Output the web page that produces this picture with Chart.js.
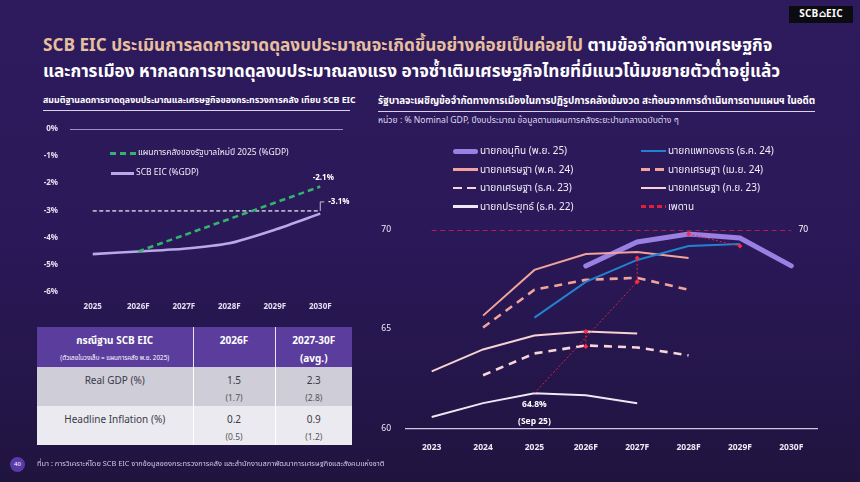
<!DOCTYPE html>
<html>
<head>
<meta charset="utf-8">
<script src="https://cdn.jsdelivr.net/npm/chart.js@4.4.1/dist/chart.umd.min.js"></script>
<style>
  body {
    margin: 0;
    width: 860px;
    height: 482px;
    overflow: hidden;
    position: relative;
    background: linear-gradient(180deg, #2e1b5e 0%, #2a1858 50%, #20143f 100%);
    font-family: "Noto Sans Thai", "Noto Sans", "DejaVu Sans", sans-serif;
    color: #fff;
  }
  .abs { position: absolute; white-space: nowrap; }
  #logo {
    left: 789px; top: 6px; width: 64px; height: 17px;
    background: #0c0b10; font-size: 10px; font-weight: bold;
    line-height: 17px; text-align: center; letter-spacing: 0.3px;
  }
  #title { left: 43px; top: 33px; font-size: 17.2px; font-weight: bold; line-height: 26px; }
  #title .gold { color: #e6c09e; }
  .sec { font-weight: bold; }
  .rule { height: 1px; background: #d9d3ea; }
  .sub { font-size: 8.6px; color: #ddd8ec; }
  .lg { font-size: 10px; color: #f0eef8; }
  .sw { position: absolute; height: 0; }
  #tbl {
    position: absolute; left: 37px; top: 327px; width: 315px;
    border-collapse: collapse; table-layout: fixed;
    font-size: 10px; text-align: center;
  }
  #tbl th { background: #5b3d9e; color: #fff; vertical-align: top; padding: 6px 2px 0 2px; height: 34px; border-left: 1px solid #e8e4f4; }
  #tbl th:first-child { border-left: none; }
  #tbl td { color: #3b3a48; vertical-align: top; padding: 6px 2px 0 2px; height: 33px; border-left: 1px solid #fff; }
  #tbl td:first-child { border-left: none; }
  #tbl tr.r1 td { background: #cfcdd8; }
  #tbl tr.r2 td { background: #ebeaf0; }
  .small { font-size: 8.5px; color: #555; display: block; margin-top: 3px; }
  #foot { left: 37px; top: 458px; font-size: 7.4px; color: #cfc9de; }
  #pg {
    left: 10px; top: 457px; width: 15px; height: 15px; border-radius: 50%;
    background: #5a3aa6; font-size: 6px; line-height: 15px; text-align: center;
  }
</style>
</head>
<body>
<div id="logo" class="abs">SCB⌂EIC</div>
<div id="title" class="abs">
  <span class="gold">SCB EIC ประเมินการลดการขาดดุลงบประมาณจะเกิดขึ้นอย่างค่อยเป็นค่อยไป</span> ตามข้อจำกัดทางเศรษฐกิจ<br>
  และการเมือง หากลดการขาดดุลงบประมาณลงแรง อาจซ้ำเติมเศรษฐกิจไทยที่มีแนวโน้มขยายตัวต่ำอยู่แล้ว
</div>

<div class="abs sec" style="left:43px;top:94px;font-size:8.8px;">สมมติฐานลดการขาดดุลงบประมาณและเศรษฐกิจของกระทรวงการคลัง เทียบ SCB EIC</div>
<div class="abs rule" style="left:43px;top:110px;width:307px;"></div>

<div class="abs sec" style="left:378px;top:94px;font-size:9.8px;">รัฐบาลจะเผชิญข้อจำกัดทางการเมืองในการปฏิรูปการคลังเข้มงวด สะท้อนจากการดำเนินการตามแผนฯ ในอดีต</div>
<div class="abs rule" style="left:378px;top:111px;width:437px;"></div>
<div class="abs sub" style="left:378px;top:114px;">หน่วย : % Nominal GDP, ปีงบประมาณ ข้อมูลตามแผนการคลังระยะปานกลางฉบับต่าง ๆ</div>

<canvas id="leftChart" class="abs" style="left:30px;top:113px;"></canvas>
<canvas id="rightChart" class="abs" style="left:375px;top:210px;"></canvas>

<!-- left chart legend -->
<div class="sw" style="left:110px;top:152px;width:26px;height:3px;background:repeating-linear-gradient(90deg,#33b36c 0 6px,transparent 6px 10px);"></div>
<div class="abs lg" style="left:138px;top:146px;font-size:8.5px;">แผนการคลังของรัฐบาลใหม่ปี 2025 (%GDP)</div>
<div class="sw" style="left:111px;top:172px;width:23px;height:3px;background:#b9a8ea;"></div>
<div class="abs lg" style="left:136px;top:166px;font-size:8.5px;">SCB EIC (%GDP)</div>

<!-- right chart legend -->
<div id="rlegend"></div>

<table id="tbl">
  <colgroup><col style="width:156px"><col style="width:82px"><col style="width:77px"></colgroup>
  <tr>
    <th><span style="font-size:10px;">กรณีฐาน SCB EIC</span><span style="display:block;font-size:6.3px;font-weight:normal;margin-top:4px;">(ตัวเลขในวงเล็บ = แผนการคลัง พ.ย. 2025)</span></th>
    <th>2026F</th>
    <th>2027-30F<span style="display:block;margin-top:2px;">(avg.)</span></th>
  </tr>
  <tr class="r1">
    <td>Real GDP (%)</td>
    <td>1.5<span class="small">(1.7)</span></td>
    <td>2.3<span class="small">(2.8)</span></td>
  </tr>
  <tr class="r2">
    <td>Headline Inflation (%)</td>
    <td>0.2<span class="small">(0.5)</span></td>
    <td>0.9<span class="small">(1.2)</span></td>
  </tr>
</table>

<div id="pg" class="abs">40</div>
<div id="foot" class="abs">ที่มา : การวิเคราะห์โดย SCB EIC จากข้อมูลของกระทรวงการคลัง และสำนักงานสภาพัฒนาการเศรษฐกิจและสังคมแห่งชาติ</div>

<script>
// ---- left chart: budget deficit (% GDP)
const leftYears = ['2025', '2026F', '2027F', '2028F', '2029F', '2030F'];
const leftTicks = [0, -1, -2, -3, -4, -5, -6];
const mofPlan = [null, -4.5, -3.9, -3.3, -2.7, -2.1];
const scbEic = [-4.6, -4.5, -4.4, -4.2, -3.7, -3.1];
const deficitRef = [-3, -3, -3, -3, -3, -3];

// ---- right chart: public debt (% nominal GDP)
const rightYears = ['2023', '2024', '2025', '2026F', '2027F', '2028F', '2029F', '2030F'];
const anutinNov25 = [null, null, null, 68.2, 69.4, 69.8, 69.6, 68.2];
const paetongtarnDec24 = [null, null, 65.6, 67.4, 68.5, 69.2, 69.3, null];
const sretthaMay24 = [null, 65.7, 68.0, 68.8, 68.9, 68.6, null, null];
const sretthaApr24 = [null, 65.1, 67.0, 67.5, 67.6, 67.0, null, null];
const sretthaDec23 = [null, 62.7, 63.8, 64.2, 64.1, 63.7, null, null];
const sretthaSep23 = [62.9, 64.0, 64.7, 64.9, 64.8, null, null, null];
const prayutDec22 = [60.6, 61.3, 61.8, 61.7, 61.3, null, null, null];
const debtCeiling = [70, 70, 70, 70, 70, 70, 70, 70];

// red dotted arrows between plan versions
const arrowDiag = [{x: '2025', y: 61.8}, {x: '2027F', y: 67.4}];
const arrow2026 = [{x: '2026F', y: 64.9}, {x: '2026F', y: 64.15}];
const arrow2027 = [{x: '2027F', y: 67.4}, {x: '2027F', y: 68.6}];
const arrow2028 = [{x: '2028F', y: 69.8}, {x: '2029F', y: 69.2}];

const FONT = '"Noto Sans Thai", "Noto Sans", "DejaVu Sans", sans-serif';

// little plugin for text labels next to points
const pointLabels = {
  id: 'pointLabels',
  afterDatasetsDraw(chart, args, opts) {
    const ctx = chart.ctx;
    (opts.items || []).forEach(it => {
      const el = chart.getDatasetMeta(it.ds).data[it.i];
      if (!el) return;
      ctx.save();
      if (it.leader) {
        ctx.strokeStyle = '#c9c3d6';
        ctx.lineWidth = 1;
        ctx.beginPath();
        ctx.moveTo(el.x, el.y);
        ctx.lineTo(el.x, el.y + it.dy);
        ctx.lineTo(el.x + 4, el.y + it.dy);
        ctx.stroke();
      }
      ctx.font = (it.weight || 'bold') + ' ' + (it.size || 8) + 'px ' + FONT;
      ctx.fillStyle = it.color || '#fff';
      ctx.textAlign = it.align || 'center';
      ctx.textBaseline = 'middle';
      ctx.fillText(it.text, el.x + it.dx, el.y + it.dy);
      ctx.restore();
    });
  }
};

const leftCanvas = document.getElementById('leftChart');
leftCanvas.width = 320; leftCanvas.height = 203;
leftCanvas.style.width = '320px'; leftCanvas.style.height = '203px';

new Chart(leftCanvas, {
  type: 'line',
  data: {
    labels: leftYears,
    datasets: [
      { label: 'mof', data: mofPlan, borderColor: '#33b36c', borderWidth: 2.6, borderDash: [6, 4], pointRadius: 0, tension: 0 },
      { label: 'scb', data: scbEic, borderColor: '#b9a8ea', borderWidth: 2.6, pointRadius: 0, tension: 0.25 },
      { label: 'ref', data: deficitRef, borderColor: '#b8b0c6', borderWidth: 1.6, borderDash: [4, 2.5], pointRadius: 0 }
    ]
  },
  options: {
    responsive: false,
    animation: false,
    layout: { padding: { top: 9.5, right: 7, left: 0, bottom: 0 } },
    plugins: {
      legend: { display: false },
      tooltip: { enabled: false },
      pointLabels: {
        items: [
          { ds: 0, i: 5, text: '-2.1%', dx: 3, dy: -8 },
          { ds: 2, i: 5, text: '-3.1%', dx: 8, dy: -9, align: 'left', leader: true }
        ]
      }
    },
    scales: {
      x: {
        offset: true,
        grid: { display: false, drawTicks: false },
        border: { display: false },
        ticks: { color: '#e4def2', font: { family: FONT, size: 8, weight: 'bold' }, padding: 11 },
        afterFit: s => { s.height = 24; }
      },
      y: {
        min: -6, max: 0,
        afterBuildTicks: s => { s.ticks = leftTicks.map(v => ({ value: v })); },
        grid: {
          drawTicks: false,
          color: c => (c.tick && c.tick.value === 0) ? '#9d90c4' : 'transparent'
        },
        border: { display: false },
        ticks: { color: '#e4def2', font: { family: FONT, size: 8, weight: 'bold' }, padding: 12, callback: v => v + '%' },
        afterFit: s => { s.width = 40; }
      }
    }
  },
  plugins: [pointLabels]
});

// ---- right chart legend (html, two columns)
const legendItems = [
  { t: 'นายกอนุทิน (พ.ย. 25)', c: '#9a80e2', h: 5, dash: null, col: 0 },
  { t: 'นายกแพทองธาร (ธ.ค. 24)', c: '#2381d2', h: 2.5, dash: null, col: 1 },
  { t: 'นายกเศรษฐา (พ.ค. 24)', c: '#f2a39b', h: 2.5, dash: null, col: 0 },
  { t: 'นายกเศรษฐา (เม.ย. 24)', c: '#f2a39b', h: 2.5, dash: [9, 5], col: 1 },
  { t: 'นายกเศรษฐา (ธ.ค. 23)', c: '#f7d6d8', h: 2.5, dash: [9, 5], col: 0 },
  { t: 'นายกเศรษฐา (ก.ย. 23)', c: '#f7d2d2', h: 2.5, dash: null, col: 1 },
  { t: 'นายกประยุทธ์ (ธ.ค. 22)', c: '#ece8f6', h: 2.5, dash: null, col: 0 },
  { t: 'เพดาน', c: '#e2203b', h: 2.5, dash: [5, 3], col: 1 }
];
const rl = document.getElementById('rlegend');
legendItems.forEach((it, k) => {
  const row = Math.floor(k / 2);
  const y = 151 + row * 18.5;
  const sx = it.col === 0 ? 453 : 641;
  const sw = document.createElement('div');
  sw.className = 'sw';
  sw.style.left = sx + 'px';
  sw.style.top = (y - it.h / 2) + 'px';
  sw.style.width = '25px';
  sw.style.height = it.h + 'px';
  sw.style.borderRadius = it.h > 3 ? '3px' : '0';
  sw.style.background = it.dash
    ? 'repeating-linear-gradient(90deg,' + it.c + ' 0 ' + it.dash[0] + 'px,transparent ' + it.dash[0] + 'px ' + (it.dash[0] + it.dash[1]) + 'px)'
    : it.c;
  rl.appendChild(sw);
  const tx = document.createElement('div');
  tx.className = 'abs lg';
  tx.style.left = (sx + 27) + 'px';
  tx.style.top = (y - 8) + 'px';
  tx.textContent = it.t;
  rl.appendChild(tx);
});

// ---- right chart
const rightCanvas = document.getElementById('rightChart');
rightCanvas.width = 470; rightCanvas.height = 249;
rightCanvas.style.width = '470px'; rightCanvas.style.height = '249px';

const arrowStyle = { borderColor: '#e8203c', borderWidth: 1, borderDash: [2, 2], pointStyle: 'rectRot', pointBackgroundColor: '#ff2a40', pointBorderWidth: 0, order: 0 };

new Chart(rightCanvas, {
  type: 'line',
  data: {
    labels: rightYears,
    datasets: [
      { label: 'ceiling', data: debtCeiling, borderColor: '#d8243e', borderWidth: 1.2, borderDash: [5, 3.5], pointRadius: 0, order: 9 },
      { label: 'anutin', data: anutinNov25, borderColor: '#9a80e2', borderWidth: 5, borderCapStyle: 'round', pointRadius: 0, order: 8 },
      { label: 'prayut', data: prayutDec22, borderColor: '#ece8f6', borderWidth: 2, pointRadius: 0, order: 7 },
      { label: 'sep23', data: sretthaSep23, borderColor: '#f7d2d2', borderWidth: 2, pointRadius: 0, order: 6 },
      { label: 'dec23', data: sretthaDec23, borderColor: '#f7d6d8', borderWidth: 2.6, borderDash: [8, 6], pointRadius: 0, order: 5 },
      { label: 'apr24', data: sretthaApr24, borderColor: '#f2a39b', borderWidth: 2.6, borderDash: [8, 6], pointRadius: 0, order: 4 },
      { label: 'may24', data: sretthaMay24, borderColor: '#f2a39b', borderWidth: 2, pointRadius: 0, order: 3 },
      { label: 'paetongtarn', data: paetongtarnDec24, borderColor: '#2381d2', borderWidth: 2, pointRadius: 0, order: 2 },
      Object.assign({ label: 'a1', data: arrowDiag, pointRadius: [0, 2.5] }, arrowStyle),
      Object.assign({ label: 'a2', data: arrow2026, pointRadius: [2.5, 2.5] }, arrowStyle),
      Object.assign({ label: 'a3', data: arrow2027, pointRadius: [2.5, 2.5] }, arrowStyle),
      Object.assign({ label: 'a4', data: arrow2028, pointRadius: [2.5, 2.5] }, arrowStyle)
    ]
  },
  options: {
    responsive: false,
    animation: false,
    spanGaps: false,
    layout: { padding: { top: 7, right: 28, left: 0, bottom: 0 } },
    plugins: {
      legend: { display: false },
      tooltip: { enabled: false },
      pointLabels: {
        items: [
          { ds: 2, i: 2, text: '64.8%', dx: 0, dy: 12, size: 8.5 },
          { ds: 2, i: 2, text: '(Sep 25)', dx: 0, dy: 29, size: 8.5 },
          { ds: 0, i: 7, text: '70', dx: 12, dy: 0, size: 8.5, weight: 'normal' }
        ]
      }
    },
    scales: {
      x: {
        offset: true,
        grid: { display: false, drawTicks: false },
        border: { display: true, color: '#cfc7e6', width: 1.2 },
        ticks: { color: '#eeeaf7', font: { family: FONT, size: 8.5, weight: 'bold' }, padding: 14 },
        afterFit: s => { s.height = 30; }
      },
      y: {
        min: 60, max: 70,
        ticks: { stepSize: 5, color: '#eeeaf7', font: { family: FONT, size: 8.5 }, padding: 15 },
        grid: { display: false, drawTicks: false },
        border: { display: false },
        afterFit: s => { s.width = 31; }
      }
    }
  },
  plugins: [pointLabels]
});
</script>
</body>
</html>
